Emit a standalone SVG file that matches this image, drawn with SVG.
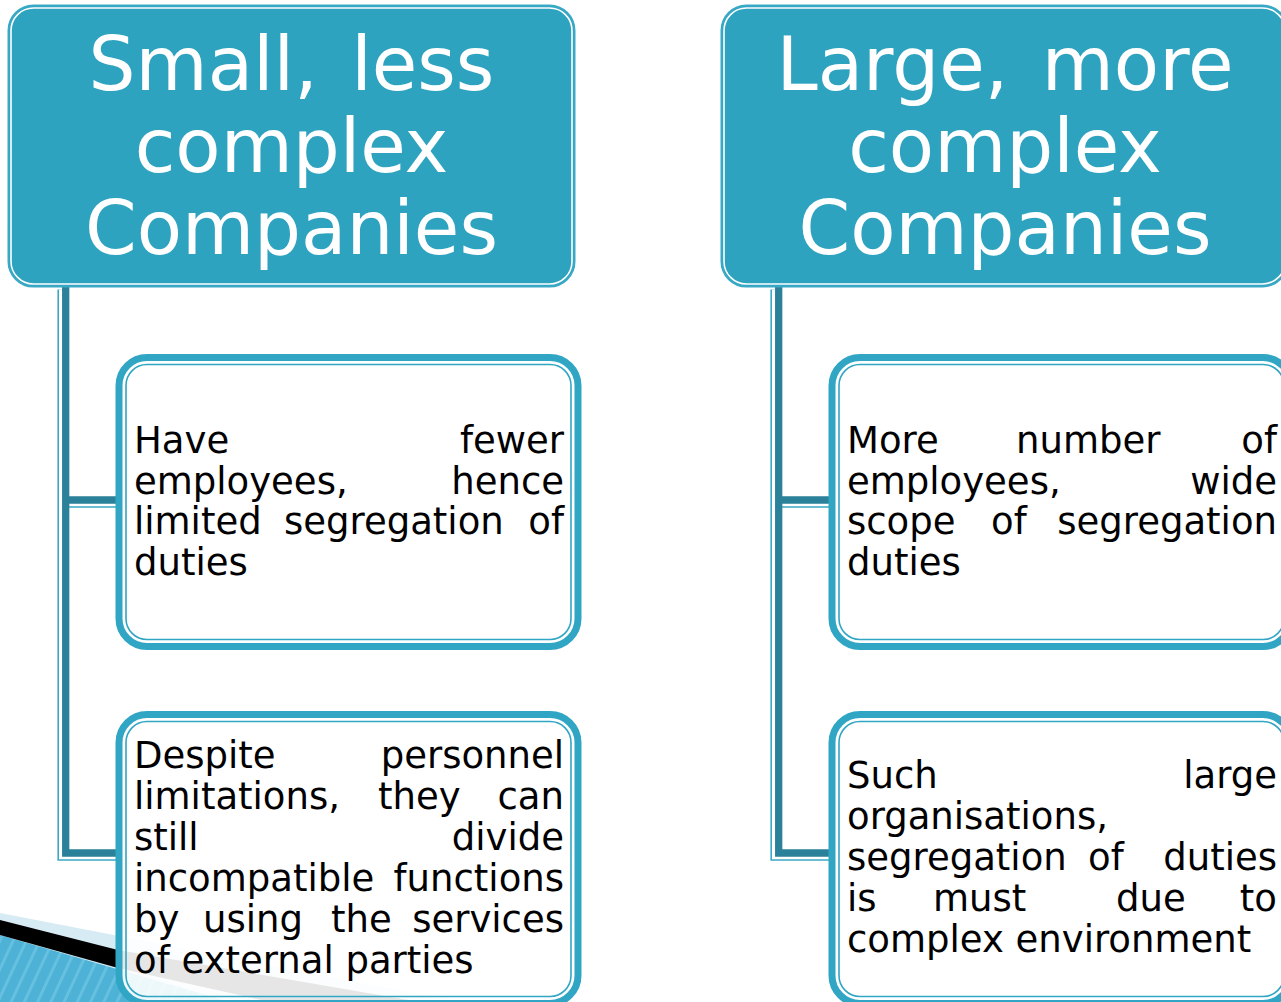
<svg xmlns="http://www.w3.org/2000/svg" width="1281" height="1002" viewBox="0 0 1281 1002">
  <defs>
    <style>
      .hdr { fill: #2EA3C0; stroke: #3AA9C5; stroke-width: 2; }
      .hdr-in { fill: none; stroke: #FFFFFF; stroke-width: 1.6; }
      .hdr-txt { font-family: "DejaVu Sans", Verdana, sans-serif; font-size: 74px; fill: #FFFFFF; text-anchor: middle; word-spacing: 10px; }
      .box { fill: #FFFFFF; fill-opacity: 0.9; stroke: #30A6C4; stroke-width: 7; }
      .box-in { fill: none; stroke: #30A6C4; stroke-width: 1.6; }
      .txt { font-family: "DejaVu Sans", Verdana, sans-serif; font-size: 37px; fill: #000000; }
      .end { text-anchor: end; }
      .link-halo { fill: none; stroke: #3AA9C5; stroke-width: 10.6; }
      .link-gap { fill: none; stroke: #FFFFFF; stroke-width: 7.4; }
      .link { fill: none; stroke: #2A8199; stroke-width: 7.3; }
    </style>
    <pattern id="stripes" patternUnits="userSpaceOnUse" width="12" height="12" patternTransform="rotate(25)">
      <rect width="12" height="12" fill="#4DB2D6"/>
      <rect width="3" height="12" fill="#66C0E0"/>
    </pattern>
  </defs>

  <!-- background ribbon in the lower left corner -->
  <g id="corner-ribbon">
    <polygon points="0,913 460,1002 0,1002" fill="#D6EBF3"/>
    <polygon points="0,935 230,1002 0,1002" fill="url(#stripes)"/>
    <polygon points="0,920 118,950 118,968 0,935" fill="#000000"/>
    <polygon points="118,950 420,1002 270,1002 118,968" fill="#000000"/>
  </g>

  <!-- connectors: header to child boxes -->
  <g id="connectors">
    <g transform="translate(-3,2.5)">
      <path class="link-halo" d="M65.7,287 V853 H120 M65.7,500 H120"/>
      <path class="link-gap" d="M65.7,287 V853 H120 M65.7,500 H120"/>
    </g>
    <path class="link" d="M65.7,287 V853 H120 M65.7,500 H120"/>
    <g transform="translate(-3,2.5)">
      <path class="link-halo" d="M778.7,287 V853 H833 M778.7,500 H833"/>
      <path class="link-gap" d="M778.7,287 V853 H833 M778.7,500 H833"/>
    </g>
    <path class="link" d="M778.7,287 V853 H833 M778.7,500 H833"/>
  </g>

  <!-- left column -->
  <g id="hdr-small">
    <rect class="hdr" x="8.5" y="5.5" width="566" height="281" rx="25"/>
    <rect class="hdr-in" x="11" y="8" width="561" height="276" rx="22.5"/>
    <text class="hdr-txt" x="291.5" y="90">Small, less</text>
    <text class="hdr-txt" x="291.5" y="172">complex</text>
    <text class="hdr-txt" x="291.5" y="254">Companies</text>
  </g>

  <g id="box-small-1">
    <rect class="box" x="119" y="357.5" width="459" height="289" rx="28"/>
    <rect class="box-in" x="126" y="364.5" width="445" height="275" rx="21"/>
    <text class="txt" x="134" y="453">Have</text>
    <text class="txt end" x="564" y="453">fewer</text>
    <text class="txt" x="134" y="493.5">employees,</text>
    <text class="txt end" x="564" y="493.5">hence</text>
    <text class="txt" x="134" y="534">limited</text>
    <text class="txt" x="284" y="534">segregation</text>
    <text class="txt end" x="564" y="534">of</text>
    <text class="txt" x="134" y="574.5">duties</text>
  </g>

  <g id="box-small-2">
    <rect class="box" x="119" y="714.5" width="459" height="289" rx="28"/>
    <rect class="box-in" x="126" y="721.5" width="445" height="275" rx="21"/>
    <text class="txt" x="134" y="768">Despite</text>
    <text class="txt end" x="564" y="768">personnel</text>
    <text class="txt" x="134" y="809">limitations,</text>
    <text class="txt" x="378" y="809">they</text>
    <text class="txt end" x="564" y="809">can</text>
    <text class="txt" x="134" y="850">still</text>
    <text class="txt end" x="564" y="850">divide</text>
    <text class="txt" x="134" y="891">incompatible</text>
    <text class="txt end" x="564" y="891">functions</text>
    <text class="txt" x="134" y="932">by</text>
    <text class="txt" x="203" y="932">using</text>
    <text class="txt" x="331" y="932">the</text>
    <text class="txt end" x="564" y="932">services</text>
    <text class="txt" x="134" y="973">of external parties</text>
  </g>

  <!-- right column -->
  <g id="hdr-large">
    <rect class="hdr" x="721.5" y="5.5" width="566" height="281" rx="25"/>
    <rect class="hdr-in" x="724" y="8" width="561" height="276" rx="22.5"/>
    <text class="hdr-txt" x="1005" y="90">Large, more</text>
    <text class="hdr-txt" x="1005" y="172">complex</text>
    <text class="hdr-txt" x="1005" y="254">Companies</text>
  </g>

  <g id="box-large-1">
    <rect class="box" x="832" y="357.5" width="459" height="289" rx="28"/>
    <rect class="box-in" x="839" y="364.5" width="445" height="275" rx="21"/>
    <text class="txt" x="847" y="453">More</text>
    <text class="txt" x="1016" y="453">number</text>
    <text class="txt end" x="1277" y="453">of</text>
    <text class="txt" x="847" y="493.5">employees,</text>
    <text class="txt end" x="1277" y="493.5">wide</text>
    <text class="txt" x="847" y="534">scope</text>
    <text class="txt" x="991" y="534">of</text>
    <text class="txt end" x="1277" y="534">segregation</text>
    <text class="txt" x="847" y="574.5">duties</text>
  </g>

  <g id="box-large-2">
    <rect class="box" x="832" y="714.5" width="459" height="289" rx="28"/>
    <rect class="box-in" x="839" y="721.5" width="445" height="275" rx="21"/>
    <text class="txt" x="847" y="788">Such</text>
    <text class="txt end" x="1277" y="788">large</text>
    <text class="txt" x="847" y="829">organisations,</text>
    <text class="txt" x="847" y="870">segregation</text>
    <text class="txt" x="1088" y="870">of</text>
    <text class="txt end" x="1277" y="870">duties</text>
    <text class="txt" x="847" y="911">is</text>
    <text class="txt" x="933" y="911">must</text>
    <text class="txt" x="1116" y="911">due</text>
    <text class="txt end" x="1277" y="911">to</text>
    <text class="txt" x="847" y="952">complex environment</text>
  </g>
</svg>
